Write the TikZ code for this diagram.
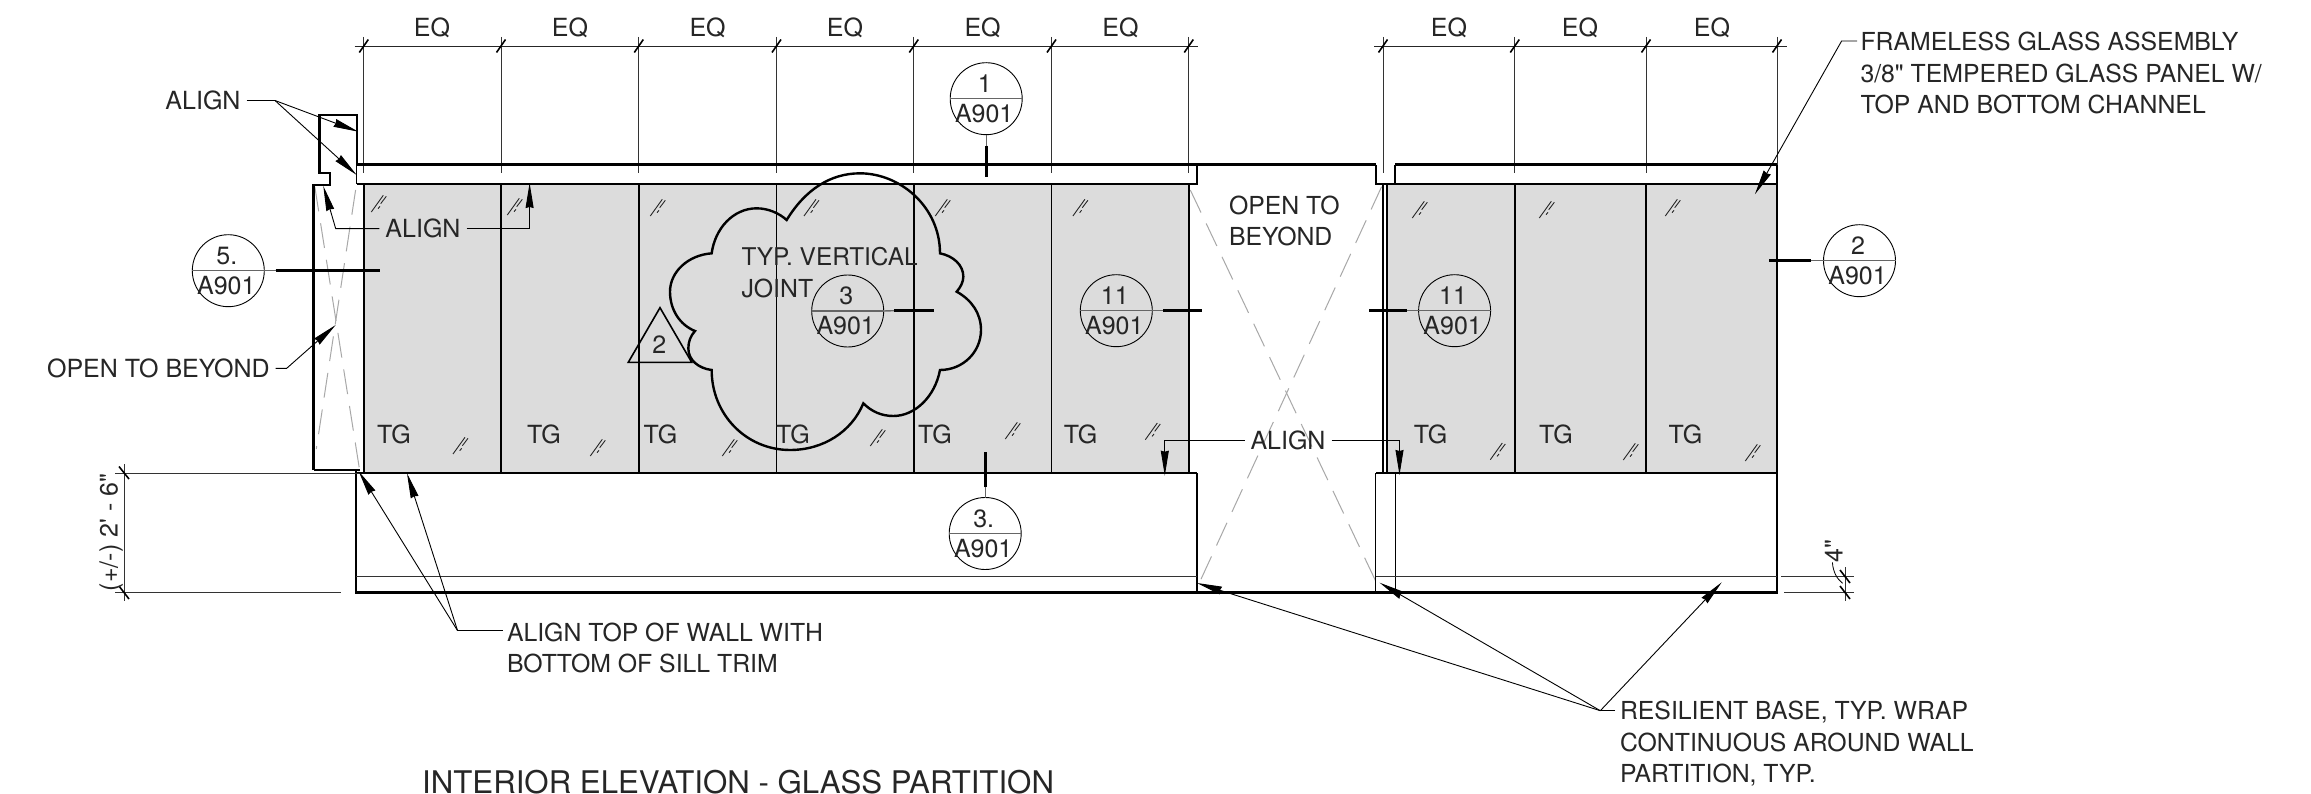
\documentclass[tikz,border=0pt]{standalone}
\usepackage{fontspec}
\usetikzlibrary{arrows.meta}
\newfontfamily\dwgfont{TeX Gyre Heros}
\definecolor{ink}{HTML}{262626}
\definecolor{glassgray}{HTML}{DCDCDC}
\definecolor{xgray}{HTML}{A8A8A8}
\tikzset{
  lbl/.style={font=\dwgfont\fontsize{25}{31.3}\selectfont,text=ink,inner sep=6pt,outer sep=0pt,text height=18pt,text depth=0pt},
  mlbl/.style={font=\dwgfont\fontsize{24.8}{31.3}\selectfont,text=ink,inner sep=6pt,outer sep=0pt,align=left,anchor=west},
  wall/.style={line width=2.4pt,black,line join=miter},
  heavy/.style={line width=3pt,black},
  panel/.style={line width=1.4pt,black},
  dimline/.style={line width=0.9pt,black!85},
  extline/.style={line width=1pt,black!80},
  tick/.style={line width=1.6pt,black},
  xline/.style={line width=1pt,xgray,dash pattern=on 25pt off 12pt},
  lead/.style={line width=0.9pt,black,-{Stealth[length=25pt,width=8pt,inset=1pt]}},
  glz/.style={line width=0.9pt,black!85},
  tagc/.style={circle,draw=black,line width=0.9pt,minimum size=72pt,inner sep=0pt,outer sep=0pt},
  tagrule/.style={line width=1.4pt,black!60},
  cut/.style={line width=3pt,black},
  cloudline/.style={line width=2.4pt,black,line join=miter}
}
\newcommand{\sectag}[4]{%
  \node[tagc] (#1) at (#2,#3) {};
  \draw[tagrule] (#1.west) -- (#1.east);
  \node[lbl,inner sep=0pt] (#1top) at (#2-1.5,#3-15) {#4};
  \node[lbl,inner sep=0pt] (#1bot) at (#2-2,#3+14.5) {A901};
}
\begin{document}
\begin{tikzpicture}[x=1pt,y=-1pt]
\clip (0,0) rectangle (2311,794);
\fill[white] (0,0) rectangle (2311,794);

% glass
\fill[glassgray] (364,184) rectangle (1189,473);
\fill[glassgray] (1387,184) rectangle (1777,473);

% dashed "open" marks
\coordinate (xa1) at (314.8,186.7); \coordinate (xa2) at (359.7,470.7);
\coordinate (xb1) at (355.6,190);   \coordinate (xb2) at (316.3,449);
\coordinate (xc1) at (1190.3,190);  \coordinate (xc2) at (1375.5,580.7);
\coordinate (xd1) at (1381.6,186.7);\coordinate (xd2) at (1198,585.7);
\draw[xline] (xa1) -- (xa2);
\draw[xline] (xb1) -- (xb2);
\draw[xline] (xc1) -- (xc2);
\draw[xline] (xd1) -- (xd2);

% panel joints with their extension lines
\foreach \x in {363.8,501,638.8,776.5,913.8,1051.5,1188.8,1514.8,1646}{
  \draw[extline] (\x,37) -- (\x,173);
  \draw[panel] (\x,184) -- (\x,473);
}
\draw[panel] (363.8,184) -- (363.8,473);
\draw[extline] (1383,37) -- (1383,173);
\draw[panel] (1383,184) -- (1383,473);
\draw[panel] (1387,184) -- (1387,473);
\draw[extline] (1777,37) -- (1777,165);

% dimension strings
\draw[dimline] (354.6,46) -- (1198,46);
\draw[dimline] (1374,46) -- (1786.5,46);
\foreach \x in {363.8,501,638.8,776.5,913.8,1051.5,1188.8,1383,1514.8,1646,1777}{
  \draw[tick] (\x-4.5,52.5) -- (\x+4.5,39.5);
}
\foreach \x in {432,570,707.6,845,982.6,1120.4,1449,1580,1712}{
  \node[lbl,inner sep=0pt] at (\x,28) {EQ};
}

% wall outline
\draw[heavy] (356.7,165) -- (1376,165);
\draw[heavy] (1395,165) -- (1777,165);
\draw[wall] (313.5,470) -- (313.5,185) -- (330,185) -- (330,173.3) -- (319.3,173.3) -- (319.3,115) -- (356.7,115) -- (356.7,165);
\draw[line width=1pt] (356.7,165) -- (356.7,184);
\draw[wall] (1197,165) -- (1197,184) -- (356.7,184);
\draw[wall] (1376,165) -- (1376,184) -- (1395,184) -- (1395,165);
\draw[wall] (1777,165) -- (1777,592.7);
\draw[line width=1.4pt] (1395,184) -- (1777,184);
\draw[wall] (313.5,469.7) -- (360,469.7);
\draw[line width=2pt] (356,473) -- (1197,473);
\draw[line width=2pt] (1376,473) -- (1777,473);
\draw[wall] (356,470) -- (356,592.7);
\draw[wall] (1197,473) -- (1197,592.7);
\draw[line width=1.8pt] (1375.5,473) -- (1375.5,592.7);
\draw[line width=1.8pt] (1395.4,473) -- (1395.4,592.7);
\draw[line width=1pt,black!80] (356,576.7) -- (1197,576.7);
\draw[line width=1pt,black!80] (1376,576.7) -- (1777,576.7);
\draw[heavy] (355,592.7) -- (1778,592.7);

% height dimension
\draw[extline] (115.3,473) -- (360,473);
\draw[extline] (115.3,592.7) -- (341,592.7);
\draw[extline] (124,464) -- (124,601.3);
\draw[tick] (119,466.5) -- (129,479);
\draw[tick] (119,586) -- (129,599);
\node[lbl,inner sep=0pt,rotate=90] at (108.5,532.5) {(+/-) 2' - 6"};

% 4 inch dimension
\draw[extline] (1781.4,576.7) -- (1854,576.7);
\draw[extline] (1784,592.7) -- (1854,592.7);
\draw[extline] (1845,567) -- (1845,601);
\draw[tick] (1840,570) -- (1850,583);
\draw[tick] (1840,586) -- (1850,599);
\draw[line width=0.8pt] (1832.4,562.3) .. controls (1833,572) and (1837,579) .. (1842.6,583.3);
\node[lbl,inner sep=0pt,rotate=90] at (1833.5,551) {4"};

% glazing marks
\foreach \p/\q in {379/203,515/206,658/207,811.7/207,943/207,1080.6/207,1420/209,1547/209,1673/207,
                   460.7/445,598/447,730/447,878/437,1013/430,1153/430.7,1498/450.7,1631/451,1753/452}{
  \begin{scope}[shift={(\p,\q)}]
    \draw[glz] (-7.7,9) -- (4.3,-7.7);
    \draw[glz] (-1,5.7) -- (1,3.3);
    \draw[glz] (1.7,0.7) -- (7.3,-6.7);
  \end{scope}
}

% TG labels
\foreach \x in {394,544,660.5,793,935,1080.6,1430.6,1556,1685.5}{
  \node[lbl,inner sep=0pt] at (\x,434.5) {TG};
}

% revision triangle and cloud
\coordinate (tri1) at (660,307.7);
\coordinate (tri2) at (628.3,362.3);
\coordinate (tri3) at (691.7,362.3);
\draw[line width=1.6pt,black,line join=miter] (tri1) -- (tri2) -- (tri3) -- cycle;
\node[lbl,inner sep=0pt] (revnum) at (659.3,345) {2};
\begin{scope}[shift={(620,170)},x=0.33333pt,y=-0.33333pt]
\draw[cloudline] (500,150) .. controls (555,60) and (630,10) .. (720,10) .. controls (840,10) and (960,110) .. (960,250)
  .. controls (1000,258) and (1030,285) .. (1030,320) .. controls (1030,335) and (1022,352) .. (1010,365)
  .. controls (1055,390) and (1083,430) .. (1083,480) .. controls (1083,545) and (1030,600) .. (960,600)
  .. controls (945,680) and (885,738) .. (820,738) .. controls (785,738) and (755,725) .. (730,700)
  .. controls (695,785) and (610,840) .. (510,840) .. controls (380,840) and (275,735) .. (275,600)
  .. controls (235,595) and (205,570) .. (205,535) .. controls (205,515) and (212,497) .. (225,483)
  .. controls (180,465) and (150,420) .. (150,365) .. controls (150,305) and (205,255) .. (275,250)
  .. controls (285,175) and (340,115) .. (410,115) .. controls (445,115) and (478,130) .. (500,150) -- cycle;
\end{scope}
\node[mlbl,inner sep=0pt] (joint) at (741.5,272.5) {\fontsize{24.4}{31.3}\selectfont TYP. VERTICAL\\JOINT};

% section tags
\sectag{tfive}{228.3}{270.7}{5.}
\sectag{tone}{986.2}{98.7}{1}
\sectag{tthree}{985.2}{533.5}{3.}
\sectag{tjoint}{847.7}{311}{3}
\sectag{tel}{1116.3}{310.7}{11}
\sectag{ter}{1454.6}{310.7}{11}
\sectag{ttwo}{1859.5}{260.7}{2}

\coordinate (c5) at (380,270.7);
\draw[tagrule] (tfive.east) -- (275.5,270.7);
\draw[cut] (275.5,270.7) -- (c5);
\draw[tagrule] (tone.south) -- (986.2,145.7);
\draw[cut] (986.2,145.7) -- (986.2,177.3);
\draw[tagrule] (tthree.north) -- (985.2,487.3);
\draw[cut] (985.2,487.3) -- (985.2,452.3);
\draw[tagrule] (tjoint.east) -- (894,310.7);
\draw[cut] (894,310.7) -- (933.7,310.7);
\draw[tagrule] (tel.east) -- (1163.3,310.7);
\draw[cut] (1163.3,310.7) -- (1202,310.7);
\draw[tagrule] (ter.west) -- (1407,310.7);
\draw[cut] (1407,310.7) -- (1368.9,310.7);
\draw[tagrule] (ttwo.west) -- (1811,260.7);
\draw[cut] (1811,260.7) -- (1768.7,260.7);

% labelled notes
\node[lbl] (alA) at (203,100.5) {ALIGN};
\coordinate (alAk) at (275,100.5);
\coordinate (alAt1) at (358.3,131.7);
\coordinate (alAt2) at (356.7,175);
\draw[line width=0.9pt] (alA.east) -- (alAk);
\draw[lead] (alAk) -- (alAt1);
\draw[lead] (alAk) -- (alAt2);

\node[lbl] (alB) at (423,228.7) {ALIGN};
\coordinate (alBl) at (335.7,228.7);
\coordinate (alBlt) at (323.3,186);
\coordinate (alBr) at (529.6,228.7);
\coordinate (alBrt) at (529.6,183);
\draw[lead] (alB.west) -- (alBl) -- (alBlt);
\draw[lead] (alB.east) -- (alBr) -- (alBrt);

\node[lbl] (otb) at (158.4,368.3) {OPEN TO BEYOND};
\coordinate (otbk) at (286.7,368.3);
\coordinate (otbt) at (335.7,325);
\draw[lead] (otb.east) -- (otbk) -- (otbt);

\node[mlbl,inner sep=0pt] (otc) at (1229,221) {OPEN TO\\BEYOND};

\node[lbl] (alC) at (1288,440.7) {ALIGN};
\coordinate (alCl) at (1164.8,440.7);
\coordinate (alClt) at (1164.8,475.7);
\coordinate (alCr) at (1399.5,440.7);
\coordinate (alCrt) at (1399.5,475);
\draw[lead] (alC.west) -- (alCl) -- (alClt);
\draw[lead] (alC.east) -- (alCr) -- (alCrt);

\node[mlbl] (atw) at (501,647.7) {ALIGN TOP OF WALL WITH\\BOTTOM OF SILL TRIM};
\coordinate (atwk) at (457.6,630.7);
\coordinate (atwt1) at (358.7,471.3);
\coordinate (atwt2) at (407,473.3);
\coordinate (atws) at (502.5,630.7);
\draw[line width=0.9pt] (atws) -- (atwk);
\draw[lead] (atwk) -- (atwt1);
\draw[lead] (atwk) -- (atwt2);

\node[mlbl] (fga) at (1854.5,73) {FRAMELESS GLASS ASSEMBLY\\3/8" TEMPERED GLASS PANEL W/\\TOP AND BOTTOM CHANNEL};
\coordinate (fgas) at (1857,41);
\coordinate (fgak) at (1841.6,41);
\coordinate (fgat) at (1754.9,194.3);
\draw[lead] (fgas) -- (fgak) -- (fgat);

\node[mlbl] (rb) at (1614,743.8) {RESILIENT BASE, TYP. WRAP\\CONTINUOUS AROUND WALL\\PARTITION, TYP.};
\coordinate (rbs) at (1615,710.7);
\coordinate (rbk) at (1600.3,710.7);
\coordinate (rbt1) at (1197,583);
\coordinate (rbt2) at (1379.6,582.7);
\coordinate (rbt3) at (1721.7,582.3);
\draw[line width=0.9pt] (rbs) -- (rbk);
\draw[lead] (rbk) -- (rbt1);
\draw[lead] (rbk) -- (rbt2);
\draw[lead] (rbk) -- (rbt3);

% title
\node[font=\dwgfont\fontsize{31.2}{36}\selectfont,text=ink,inner sep=0pt,anchor=base west] (title) at (422,793) {INTERIOR ELEVATION - GLASS PARTITION};
\end{tikzpicture}
\end{document}
